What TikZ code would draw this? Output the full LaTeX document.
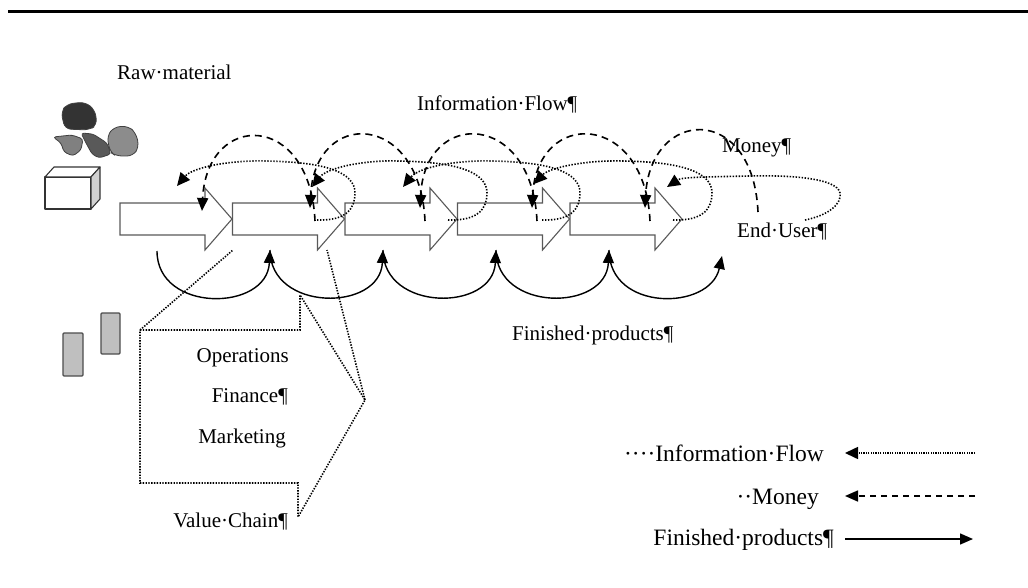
\documentclass[tikz,border=0pt]{standalone}
\usepackage{fontspec}
\setmainfont{Liberation Serif}
\usetikzlibrary{arrows.meta}
\begin{document}
\begin{tikzpicture}[x=1pt,y=-1pt,
  lbl/.style={inner sep=0pt, font=\fontsize{21}{25}\selectfont},
  leg/.style={inner sep=0pt, font=\fontsize{23.5}{28}\selectfont},
  blk/.style={draw=black!65, line width=1.1pt, fill=white, line join=miter},
  prod/.style={line width=1.4pt, -{Triangle[length=13pt,width=11pt]}},
  money/.style={line width=1.6pt, dash pattern=on 7pt off 5pt, -{Triangle[length=13pt,width=11pt]}},
  info/.style={line width=1.6pt, dash pattern=on 1.4pt off 1.6pt, -{Triangle[length=13pt,width=12pt]}},
  chain/.style={line width=1.6pt, dash pattern=on 1.4pt off 1.4pt, black},
  rock/.style={draw=black!75, line width=0.8pt, rounded corners=3pt},
  bar/.style={draw=black!70, fill=black!25, line width=1.3pt, rounded corners=1pt},
  cube/.style={draw=black!80, line width=1.1pt, line join=round}
]
\useasboundingbox (0,0) rectangle (1028,588);
% top rule
\coordinate (rule1) at (8,11.5);
\coordinate (rule2) at (1028,11.5);
\draw[line width=2.6pt] (rule1) -- (rule2);

% raw material rocks
\draw[rock, fill=black!80, rounded corners=6pt] (65,129) -- (61,112) -- (67,104) -- (85,102) -- (95,110) -- (97,125) -- (89,130) -- cycle;
\draw[rock, fill=black!50] (53,137) -- (72,135) -- (83,139) -- (81,150) -- (73,156) -- (64,152) -- (61,143) -- cycle;
\draw[rock, fill=black!65] (81,133) -- (93,134) -- (107,143) -- (111,154) -- (99,158) -- (92,154) -- (86,143) -- cycle;
\draw[rock, fill=black!45, rounded corners=6pt] (110,152) -- (107,136) -- (114,127) -- (128,126) -- (136,133) -- (139,147) -- (133,156) -- (116,156) -- cycle;

% box
\draw[cube, fill=white] (45,177) rectangle (91,209);
\draw[cube, fill=white] (45,177) -- (54,167) -- (100,167) -- (91,177) -- cycle;
\draw[cube, fill=black!18] (91,177) -- (100,167) -- (100,199) -- (91,209) -- cycle;

% gray bars
\draw[bar] (63,333) rectangle (83,376);
\draw[bar] (101,313) rectangle (120,354);

% value chain bracket
\coordinate (vc1) at (140,330);
\coordinate (vc2) at (300,330);
\coordinate (vc3) at (300,295);
\coordinate (vc4) at (365,400);
\coordinate (vc5) at (298,517);
\coordinate (vc6) at (298,483);
\coordinate (vc7) at (140,483);
\coordinate (vcA) at (233,250);
\coordinate (vcB) at (327,250);
\draw[chain] (vc1) -- (vc2) -- (vc3) -- (vc4) -- (vc5) -- (vc6) -- (vc7) -- cycle;
\draw[chain] (vc1) -- (vcA);
\draw[chain] (vc4) -- (vcB);

% block arrows
\foreach \k in {1,...,5} {
  \pgfmathsetmacro\L{120+112.5*(\k-1)}
  \draw[blk] (\L,203) coordinate (blk\k) -- ++(85,0) -- ++(0,-15) -- ++(27,31) -- ++(-27,31) -- ++(0,-15) -- ++(-85,0) -- cycle;
}

% finished products arcs
\coordinate (p0) at (157,251);
\coordinate (p1) at (270,250);
\coordinate (p2) at (383,250);
\coordinate (p3) at (496,250);
\coordinate (p4) at (609,250);
\coordinate (p5) at (722,256);
\draw[prod] (p0) .. controls +(0,62) and +(-3,62) .. (p1);
\draw[prod] (p1) .. controls +(0,62) and +(-3,62) .. (p2);
\draw[prod] (p2) .. controls +(0,62) and +(-3,62) .. (p3);
\draw[prod] (p3) .. controls +(0,62) and +(-3,62) .. (p4);
\draw[prod] (p4) .. controls +(0,62) and +(-12,55) .. (p5);

% money arcs
\coordinate (a1) at (202,211);
\coordinate (a2) at (310,208);
\coordinate (a3) at (420,208);
\coordinate (a4) at (532,208);
\coordinate (a5) at (645,208);
\coordinate (s1) at (315,221);
\coordinate (s2) at (425,221);
\coordinate (s3) at (537,221);
\coordinate (s4) at (650,221);
\coordinate (s5) at (758,212);
\foreach \j in {1,...,5} {
  \draw[money] (s\j) .. controls +(-5,-110) and +(5,-100) .. (a\j);
}

% information loops
\foreach \B/\R/\tx/\ty [count=\k] in {317/355/177/186, 448/487/312/187, 542/580/403/187, 673/712/534/184} {
  \pgfmathsetmacro\M{(\R+\tx)/2}
  \coordinate (ib\k) at (\B,220);
  \coordinate (it\k) at (\tx,\ty);
  \draw[info] (ib\k) .. controls (\R-8,221) and (\R,208) .. (\R,193)
     .. controls (\R,172) and (\R-30,162) .. (\M,161)
     .. controls (\tx+50,160) and (\tx+15,168) .. (it\k);
}
\coordinate (ib5) at (805,220);
\coordinate (it5) at (667,187);
\draw[info] (ib5) .. controls (830,215) and (842,203) .. (840,193)
   .. controls (837,178) and (790,175) .. (750,176)
   .. controls (705,177) and (682,177) .. (it5);

% labels
\node[lbl, anchor=base west] (raw) at (117,80) {Raw·material};
\node[lbl, anchor=base west] (infolbl) at (417,111) {Information·Flow¶};
\node[lbl, anchor=base west] (moneylbl) at (722,153) {Money¶};
\node[lbl, anchor=base west] (enduser) at (737,237) {End·User¶};
\node[lbl, anchor=base west] (prodlbl) at (512,340) {Finished·products¶};
\node[lbl, anchor=base east] (ops) at (289,362) {Operations};
\node[lbl, anchor=base east] (fin) at (288,402) {Finance¶};
\node[lbl, anchor=base east] (mkt) at (286,443) {Marketing};
\node[lbl, anchor=base east] (vclbl) at (288,527) {Value·Chain¶};

% legend
\node[leg, anchor=base east] (lg1) at (824,461) {····Information·Flow};
\node[leg, anchor=base east] (lg2) at (819,504) {··Money};
\node[leg, anchor=base east] (lg3) at (834,545) {Finished·products¶};
\coordinate (l1a) at (975,453);
\coordinate (l1b) at (845,453);
\coordinate (l2a) at (975,496);
\coordinate (l2b) at (845,496);
\coordinate (l3a) at (845,539);
\coordinate (l3b) at (973,539);
\draw[info, dash pattern=on 1.2pt off 1.2pt] (l1a) -- (l1b);
\draw[money, dash pattern=on 6pt off 5pt] (l2a) -- (l2b);
\draw[prod] (l3a) -- (l3b);
\end{tikzpicture}
\end{document}
